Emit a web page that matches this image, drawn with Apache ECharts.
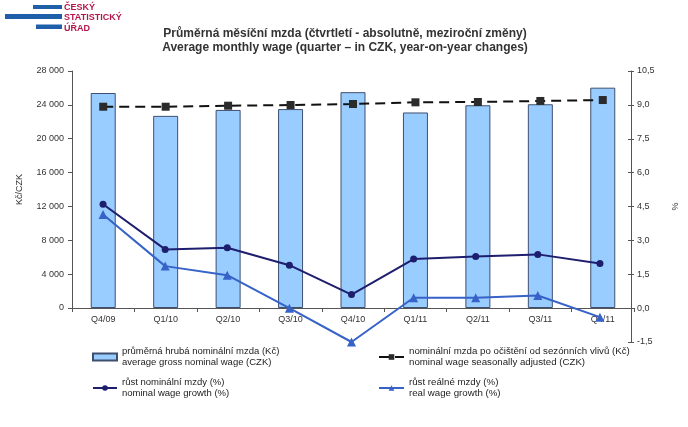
<!DOCTYPE html>
<html><head><meta charset="utf-8">
<script src="https://cdn.jsdelivr.net/npm/echarts@6/dist/echarts.min.js"></script>
<style>html,body{margin:0;padding:0;background:#fff}#c{width:688px;height:427px}</style>
</head><body><div id="c"></div>
<script>
const categories = ['Q4/09','Q1/10','Q2/10','Q3/10','Q4/10','Q1/11','Q2/11','Q3/11','Q4/11'];
const grossWage = [25400, 22700, 23400, 23500, 25500, 23100, 23950, 24070, 26030];
const seasonalWage = [23780, 23780, 23900, 23980, 24100, 24300, 24340, 24460, 24570];
const nominalGrowth = [4.6, 2.6, 2.67, 1.9, 0.6, 2.17, 2.29, 2.38, 1.98];
const realGrowth = [4.15, 1.86, 1.46, 0.0, -1.5, 0.46, 0.46, 0.56, -0.4];
const leftTicks = {min: 0, max: 28000, interval: 4000};
const rightTicks = {min: -1.5, max: 10.5, interval: 1.5};
const names = {
  gross: 'průměrná hrubá nominální mzda (Kč)\naverage gross nominal wage (CZK)',
  seas: 'nominální mzda po očištění od sezónních vlivů (Kč)\nnominal wage seasonally adjusted (CZK)',
  nom: 'růst nominální mzdy (%)\nnominal wage growth (%)',
  real: 'růst reálné mzdy (%)\nreal wage growth (%)'
};
const FONT = 'Liberation Sans, Arial, sans-serif';
const chart = echarts.init(document.getElementById('c'));
const axisLbl = {fontFamily: FONT, fontSize: 9, color: '#333'};
const rightAxisBase = {type: 'value', gridIndex: 1, position: 'right', min: rightTicks.min, max: rightTicks.max, interval: rightTicks.interval, splitLine: {show: false}};
chart.setOption({
  backgroundColor: '#fff',
  animation: false,
  title: {
    text: 'Průměrná měsíční mzda (čtvrtletí - absolutně, meziroční změny)\nAverage monthly wage (quarter – in CZK, year-on-year changes)',
    left: 340, textAlign: 'center', top: 21,
    textStyle: {fontFamily: FONT, fontSize: 12, fontWeight: 'bold', color: '#333', lineHeight: 14.5}
  },
  graphic: [
    {type: 'rect', shape: {x: 33, y: 5, width: 29, height: 4}, style: {fill: '#1F5FAA'}},
    {type: 'rect', shape: {x: 5, y: 14, width: 57, height: 5}, style: {fill: '#1F5FAA'}},
    {type: 'rect', shape: {x: 36, y: 24.5, width: 26, height: 4.5}, style: {fill: '#1F5FAA'}},
    {type: 'text', left: 64, top: 2, style: {text: 'ČESKÝ\nSTATISTICKÝ\nÚŘAD', fill: '#B3174A', font: 'bold 9px ' + FONT, lineHeight: 10.5}}
  ],
  legend: [
    {left: 92, top: 346, padding: 0, orient: 'vertical', itemGap: 9, itemWidth: 24, itemHeight: 7,
     data: [{name: names.gross, icon: 'rect'}, names.nom],
     textStyle: {fontFamily: FONT, fontSize: 9.5, color: '#222', lineHeight: 11}},
    {left: 378, top: 346, padding: 0, orient: 'vertical', itemGap: 9, itemWidth: 25, itemHeight: 7,
     data: [names.seas, names.real],
     textStyle: {fontFamily: FONT, fontSize: 9.7, color: '#222', lineHeight: 11}}
  ],
  grid: [
    {left: 72, right: 54, top: 71, height: 237},
    {left: 72, right: 54, top: 71, height: 271}
  ],
  xAxis: [
    {type: 'category', gridIndex: 0, data: categories, boundaryGap: true,
     axisLine: {lineStyle: {color: '#555', width: 1}},
     axisTick: {show: true, length: 4, lineStyle: {color: '#555'}},
     axisLabel: Object.assign({margin: 7}, axisLbl)},
    {type: 'category', gridIndex: 1, data: categories, boundaryGap: true, show: false}
  ],
  yAxis: [
    {type: 'value', gridIndex: 0, position: 'left', min: leftTicks.min, max: leftTicks.max, interval: leftTicks.interval,
     name: 'Kč/CZK', nameLocation: 'middle', nameGap: 48, nameRotate: 90,
     nameTextStyle: {fontFamily: FONT, fontSize: 9, color: '#333'},
     axisLine: {show: true, lineStyle: {color: '#555'}},
     axisTick: {show: true, length: 4, lineStyle: {color: '#555'}},
     splitLine: {show: false},
     axisLabel: Object.assign({margin: 8, formatter: v => String(v).replace(/\B(?=(\d{3})+(?!\d))/g, ' ')}, axisLbl)},
    Object.assign({}, rightAxisBase, {
     name: '%', nameLocation: 'middle', nameGap: 40, nameRotate: 90,
     nameTextStyle: {fontFamily: FONT, fontSize: 9, color: '#333'},
     axisLine: {show: true, lineStyle: {color: '#555'}},
     axisTick: {show: true, length: 3, inside: false, lineStyle: {color: '#555'}},
     axisLabel: Object.assign({margin: 6, formatter: v => v.toFixed(1).replace('.', ',')}, axisLbl)}),
    Object.assign({}, rightAxisBase, {
     axisLine: {show: false},
     axisTick: {show: true, length: 3, inside: true, lineStyle: {color: '#555'}},
     axisLabel: {show: false}})
  ],
  series: [
    {name: names.gross, type: 'bar', xAxisIndex: 0, yAxisIndex: 0, data: grossWage, barWidth: 25,
     itemStyle: {color: '#99CCFF', borderColor: '#3F4F6F', borderWidth: 1}},
    {name: names.seas, type: 'line', xAxisIndex: 0, yAxisIndex: 0, data: seasonalWage,
     symbol: 'rect', symbolSize: 8, lineStyle: {color: '#111', width: 2, type: [10, 6]},
     itemStyle: {color: '#2B2B2B'}},
    {name: names.nom, type: 'line', xAxisIndex: 1, yAxisIndex: 1, data: nominalGrowth,
     symbol: 'circle', symbolSize: 7, lineStyle: {color: '#1E1E6E', width: 2},
     itemStyle: {color: '#1E1E6E'}},
    {name: names.real, type: 'line', xAxisIndex: 1, yAxisIndex: 1, data: realGrowth,
     symbol: 'triangle', symbolSize: 9, lineStyle: {color: '#3762C8', width: 2},
     itemStyle: {color: '#3762C8'}}
  ]
});
</script></body></html>
